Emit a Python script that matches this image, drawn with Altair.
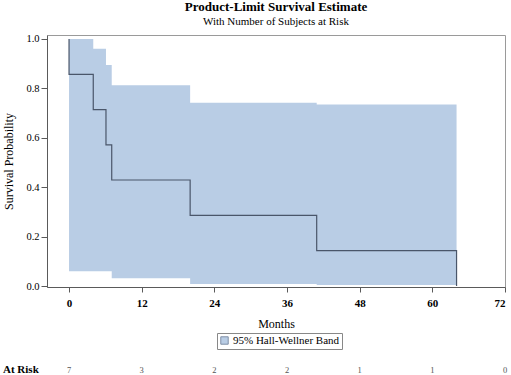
import altair as alt
import pandas as pd

# Kaplan-Meier step curve
km_time = [0, 0, 4.0, 6.1, 7.05, 20.0, 40.9, 64.0]
km_surv = [1.0, 0.857, 0.714, 0.571, 0.429, 0.286, 0.143, 0.0]

# 95% Hall-Wellner band
band_time = [0, 4.0, 6.1, 7.05, 20.0, 40.9, 64.0]
band_upper = [1.0, 0.96, 0.895, 0.813, 0.742, 0.735, 0.735]
band_lower = [0.06, 0.06, 0.06, 0.031, 0.008, 0.004, 0.004]

# At-risk table
risk_months = [0, 12, 24, 36, 48, 60, 72]
risk_counts = [7, 3, 2, 2, 1, 1, 0]

FONT = "Liberation Serif"
BAND_COLOR = "#B9CDE5"
LINE_COLOR = "#4A566A"

km_df = pd.DataFrame({"t": km_time, "s": km_surv})
band_df = pd.DataFrame({"t": band_time, "lo": band_lower, "hi": band_upper,
                        "lab": ["95% Hall-Wellner Band"] * len(band_time)})
risk_df = pd.DataFrame({"t": risk_months, "n": [str(c) for c in risk_counts]})

xscale = alt.Scale(domain=[-3.64, 72], nice=False, zero=False)
yscale = alt.Scale(domain=[-0.004, 1.016], nice=False, zero=False)

xaxis = alt.Axis(values=[0, 12, 24, 36, 48, 60, 72], title="Months", grid=False,
                 tickSize=5, labelPadding=5, titlePadding=10, labelFontSize=11,
                 titleFontSize=12, labelFontWeight="bold")
yaxis = alt.Axis(values=[0, 0.2, 0.4, 0.6, 0.8, 1.0], format=".1f",
                 title="Survival Probability", grid=False, tickSize=6,
                 labelPadding=2, titlePadding=10, labelFontSize=10.5,
                 titleFontSize=12)

band = alt.Chart(band_df).mark_area(interpolate="step-after", opacity=1).encode(
    x=alt.X("t:Q", scale=xscale, axis=xaxis),
    y=alt.Y("hi:Q", scale=yscale, axis=yaxis),
    y2="lo:Q",
    fill=alt.Fill("lab:N", scale=alt.Scale(range=[BAND_COLOR]),
                  legend=alt.Legend(title=None, orient="none", legendX=170,
                                    legendY=298, symbolType="square",
                                    symbolSize=55, symbolStrokeColor="#7F8FA6",
                                    symbolStrokeWidth=1, labelOffset=3,
                                    strokeColor="#888888", padding=2,
                                    symbolOpacity=1)),
)

line = alt.Chart(km_df).mark_line(interpolate="step-after", color=LINE_COLOR,
                                  strokeWidth=1.2).encode(
    x=alt.X("t:Q", scale=xscale),
    y=alt.Y("s:Q", scale=yscale),
)

risk = alt.Chart(risk_df).mark_text(font=FONT, fontSize=8.5, color="#555555",
                                    baseline="middle").encode(
    x=alt.X("t:Q", scale=xscale),
    y=alt.value(335),
    text="n:N",
)

risk_label = alt.Chart(pd.DataFrame({"l": ["At Risk"]})).mark_text(
    font=FONT, fontSize=11, color="black", align="left", baseline="middle",
    fontWeight="bold").encode(
    x=alt.value(-44), y=alt.value(335), text="l:N")

chart = alt.layer(band, line, risk, risk_label).properties(
    width=458, height=252,
    background="white",
    title=alt.TitleParams(text="Product-Limit Survival Estimate",
                          subtitle="With Number of Subjects at Risk",
                          anchor="middle", font=FONT, fontSize=13,
                          fontWeight="bold", subtitleFont=FONT,
                          subtitleFontSize=11, subtitleColor="black",
                          color="black", offset=7, subtitlePadding=2),
    autosize=alt.AutoSizeParams(type="none"),
    padding={"left": 47, "top": 35, "right": 6, "bottom": 88},
).configure_view(stroke="#9A9A9A", strokeWidth=1).configure_axis(
    labelFont=FONT, titleFont=FONT, titleFontWeight="normal",
    labelColor="black", titleColor="black", domainColor="#5A5A5A",
    tickColor="#5A5A5A",
).configure_legend(
    labelFont=FONT, labelFontSize=11, labelColor="black",
)

chart.save("out.html", embed_options={"renderer": "svg", "actions": False})
